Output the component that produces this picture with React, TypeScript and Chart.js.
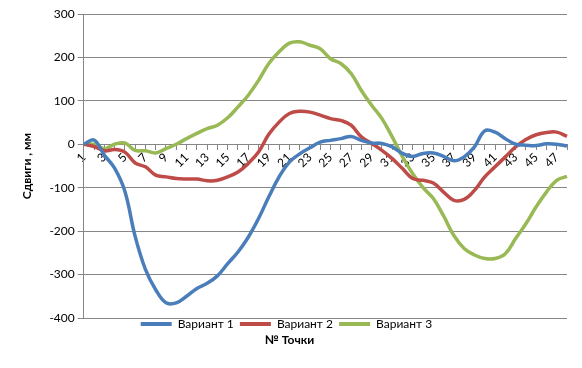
import React, { useEffect, useRef } from 'react';
import { Chart, registerables } from 'chart.js';

Chart.register(...registerables);

const pointLabels = [
  '1', '2', '3', '4', '5', '6', '7', '8', '9', '10', '11', '12',
  '13', '14', '15', '16', '17', '18', '19', '20', '21', '22', '23', '24',
  '25', '26', '27', '28', '29', '30', '31', '32', '33', '34', '35', '36',
  '37', '38', '39', '40', '41', '42', '43', '44', '45', '46', '47', '48',
];

const variant1 = [
  0, 10, -25, -55, -108, -212, -288, -335, -365, -365,
  -350, -332, -320, -303, -275, -248, -214, -171, -121, -75,
  -41, -22, -8, 5, 9, 13, 18, 9, 3, 2,
  -6, -21, -28, -21, -20, -28, -38, -29, -6, 31,
  28, 13, 0, -2, -3, 1, 0, -4,
];

const variant2 = [
  0, -5, -15, -12, -18, -43, -52, -71, -75, -79,
  -80, -80, -84, -83, -75, -64, -44, -18, 23, 51,
  71, 76, 74, 67, 59, 55, 44, 17, 2, -14,
  -33, -56, -79, -83, -89, -110, -129, -127, -106, -75,
  -52, -29, -6, 11, 22, 27, 28, 18,
];

const variant3 = [
  0, 0, -10, 0, 3, -14, -15, -20, -10, 0,
  13, 25, 36, 44, 61, 86, 113, 147, 186, 213,
  233, 236, 228, 220, 197, 186, 163, 124, 90, 59,
  17, -29, -68, -100, -125, -165, -210, -240, -255, -263,
  -263, -252, -217, -183, -144, -110, -83, -74,
];

const seriesNames = ['Вариант 1', 'Вариант 2', 'Вариант 3'];
const seriesColors = ['#4A7EBB', '#BE4B48', '#98B954'];

const FONT = 'Lato, "Noto Sans", "DejaVu Sans", sans-serif';

export default function App() {
  const ref = useRef<HTMLCanvasElement | null>(null);

  useEffect(() => {
    document.body.style.margin = '0';
    const series = [variant1, variant2, variant3];
    const chart = new Chart(ref.current as HTMLCanvasElement, {
      type: 'line',
      data: {
        labels: pointLabels,
        datasets: series.map((d, i) => ({
          label: seriesNames[i],
          data: d,
          borderColor: seriesColors[i],
          backgroundColor: seriesColors[i],
          borderWidth: 3.5,
          pointRadius: 0,
          tension: 0.4,
          fill: false,
        })),
      },
      options: {
        responsive: false,
        animation: false,
        layout: { padding: { left: 12, right: 15, top: 14, bottom: 22.6 } },
        plugins: {
          tooltip: { enabled: false },
          legend: {
            position: 'bottom',
            labels: {
              boxWidth: 31,
              boxHeight: 4,
              padding: 0,
              color: '#000',
              font: { family: FONT, size: 12 },
              generateLabels: (c: any) =>
                Chart.defaults.plugins.legend.labels
                  .generateLabels(c)
                  .map((l: any) => ({ ...l, text: l.text + '  ', lineWidth: 0 })),
            },
          },
          title: {
            display: true,
            position: 'bottom',
            text: '№ Точки',
            color: '#000',
            font: { family: FONT, size: 12, weight: 'bold' },
            padding: { top: -7, bottom: -2 },
          },
        },
        scales: {
          x: {
            type: 'category',
            position: { y: 0 } as any,
            grid: {
              drawOnChartArea: false,
              drawTicks: true,
              tickLength: 5,
              color: '#868686',
            },
            border: { color: '#868686', width: 1 },
            ticks: {
              autoSkip: false,
              minRotation: 45,
              maxRotation: 45,
              padding: 1,
              color: '#000',
              font: { family: FONT, size: 12 },
              callback: (_v: any, i: number) => (i % 2 === 0 ? pointLabels[i] : ''),
            },
          },
          y: {
            min: -400,
            max: 300,
            ticks: {
              stepSize: 100,
              color: '#000',
              padding: 3,
              font: { family: FONT, size: 12 },
            },
            grid: { color: '#868686', tickLength: 6 },
            border: { color: '#868686', width: 1 },
            title: {
              display: true,
              text: 'Сдвиги , мм',
              color: '#000',
              font: { family: FONT, size: 12, weight: 'bold' },
              padding: { top: 8, bottom: 12 },
            },
          },
        },
      },
    });
    return () => chart.destroy();
  }, []);

  return (
    <div style={{ width: 582, height: 368 }}>
      <canvas ref={ref} width={582} height={368} style={{ display: 'block' }} />
    </div>
  );
}
